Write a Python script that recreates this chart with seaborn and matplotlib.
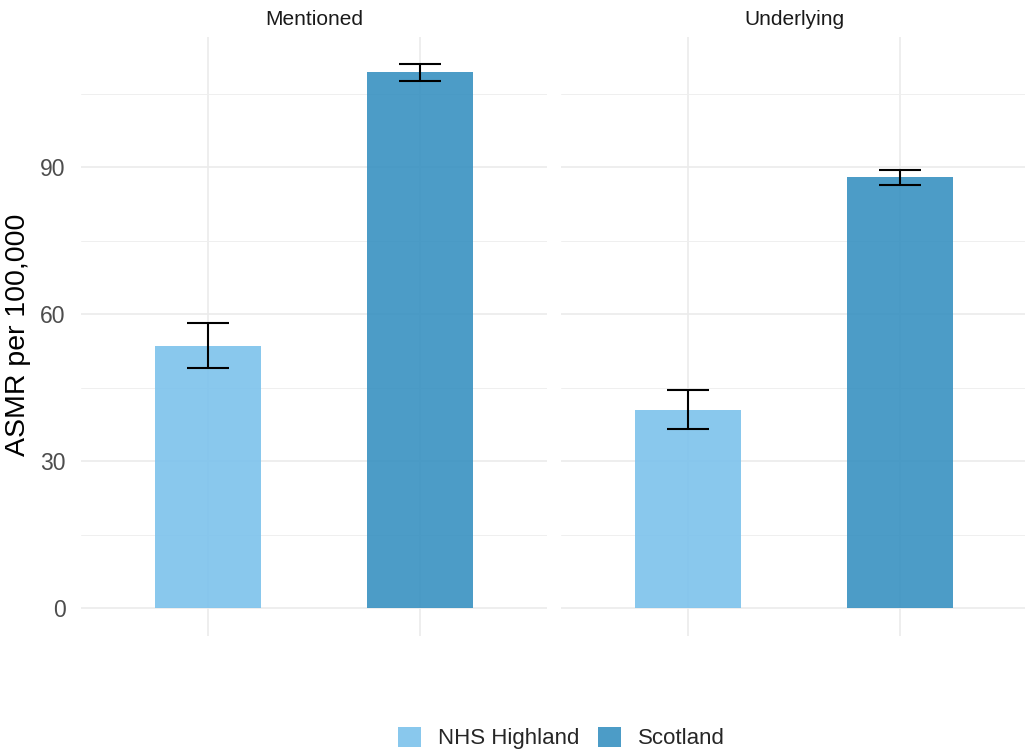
import matplotlib
matplotlib.use("Agg")
import matplotlib.pyplot as plt
import seaborn as sns
import pandas as pd
from matplotlib.patches import Patch

# Age-standardised mortality rates with 95% confidence limits
measures = ["Mentioned", "Mentioned", "Underlying", "Underlying"]
areas = ["NHS Highland", "Scotland", "NHS Highland", "Scotland"]
asmr = [53.5, 109.4, 40.4, 87.9]
lower_ci = [49.0, 107.6, 36.5, 86.3]
upper_ci = [58.1, 111.1, 44.5, 89.3]

area_order = ["NHS Highland", "Scotland"]
facet_order = ["Mentioned", "Underlying"]
area_colours = {"NHS Highland": "#7CC2EC", "Scotland": "#3891C1"}

df = pd.DataFrame({"measure": measures, "area": areas, "asmr": asmr,
                   "lower": lower_ci, "upper": upper_ci})

sns.set_theme(style="whitegrid")
plt.rcParams["font.family"] = ["Liberation Sans", "DejaVu Sans"]

W, H = 1025, 749
fig = plt.figure(figsize=(W / 100, H / 100), dpi=100)


def box(left, top, right, bottom):
    return [left / W, 1 - bottom / H, (right - left) / W, (bottom - top) / H]


axes = [fig.add_axes(box(80.8, 36.7, 547, 636)),
        fig.add_axes(box(561, 36.7, 1027, 636))]

BAR_ALPHA = 0.9
for i, (ax, m) in enumerate(zip(axes, facet_order)):
    sub = df[df["measure"] == m].set_index("area").loc[area_order].reset_index()
    sns.barplot(data=sub, x="area", y="asmr", hue="area", order=area_order,
                hue_order=area_order, palette=area_colours, width=0.5,
                saturation=1, alpha=BAR_ALPHA, errorbar=None, legend=False,
                linewidth=0, ax=ax)
    xs = list(range(len(sub)))
    ax.vlines(xs, sub["lower"], sub["upper"], color="black", lw=1.5, zorder=4)
    for lim in ("lower", "upper"):
        ax.hlines(sub[lim], [x - 0.1 for x in xs], [x + 0.1 for x in xs],
                  color="black", lw=1.5, zorder=4)

    ax.set_xlim(-0.6, 1.6)
    ax.set_ylim(-5.71, 116.6)
    ax.set_yticks([0, 30, 60, 90])
    ax.set_yticks([15, 45, 75, 105], minor=True)
    ax.set_xticks(xs)
    ax.set_xticklabels([])
    ax.set_xlabel("")
    ax.set_ylabel("")
    ax.set_facecolor("white")
    ax.set_axisbelow(True)
    ax.grid(which="major", color="#EBEBEB", lw=1.2)
    ax.grid(which="minor", axis="y", color="#EFEFEF", lw=0.7)
    for s in ax.spines.values():
        s.set_visible(False)
    ax.tick_params(which="both", length=0)
    ax.tick_params(axis="y", labelsize=16.5, labelcolor="#4D4D4D", pad=11)
    if i > 0:
        ax.set_yticklabels([])

    # facet strip title
    pos = ax.get_position()
    fig.text(pos.x0 + pos.width / 2, 1 - 25 / H, m, ha="center",
             va="baseline", fontsize=15, color="#1A1A1A")

fig.text(18 / W, 1 - 335 / H, "ASMR per 100,000", rotation=90,
         ha="center", va="center", fontsize=20.5, color="black")

handles = [Patch(facecolor=area_colours[a], alpha=BAR_ALPHA, edgecolor="none",
                 label=a) for a in area_order]
fig.legend(handles=handles, loc="center", bbox_to_anchor=(561.5 / W, 1 - 738 / H),
           ncol=2, frameon=False, fontsize=16, handlelength=1.05,
           handleheight=1.05, handletextpad=0.77, columnspacing=0.8,
           borderpad=0, borderaxespad=0)

fig.savefig("out.png", dpi=100)
